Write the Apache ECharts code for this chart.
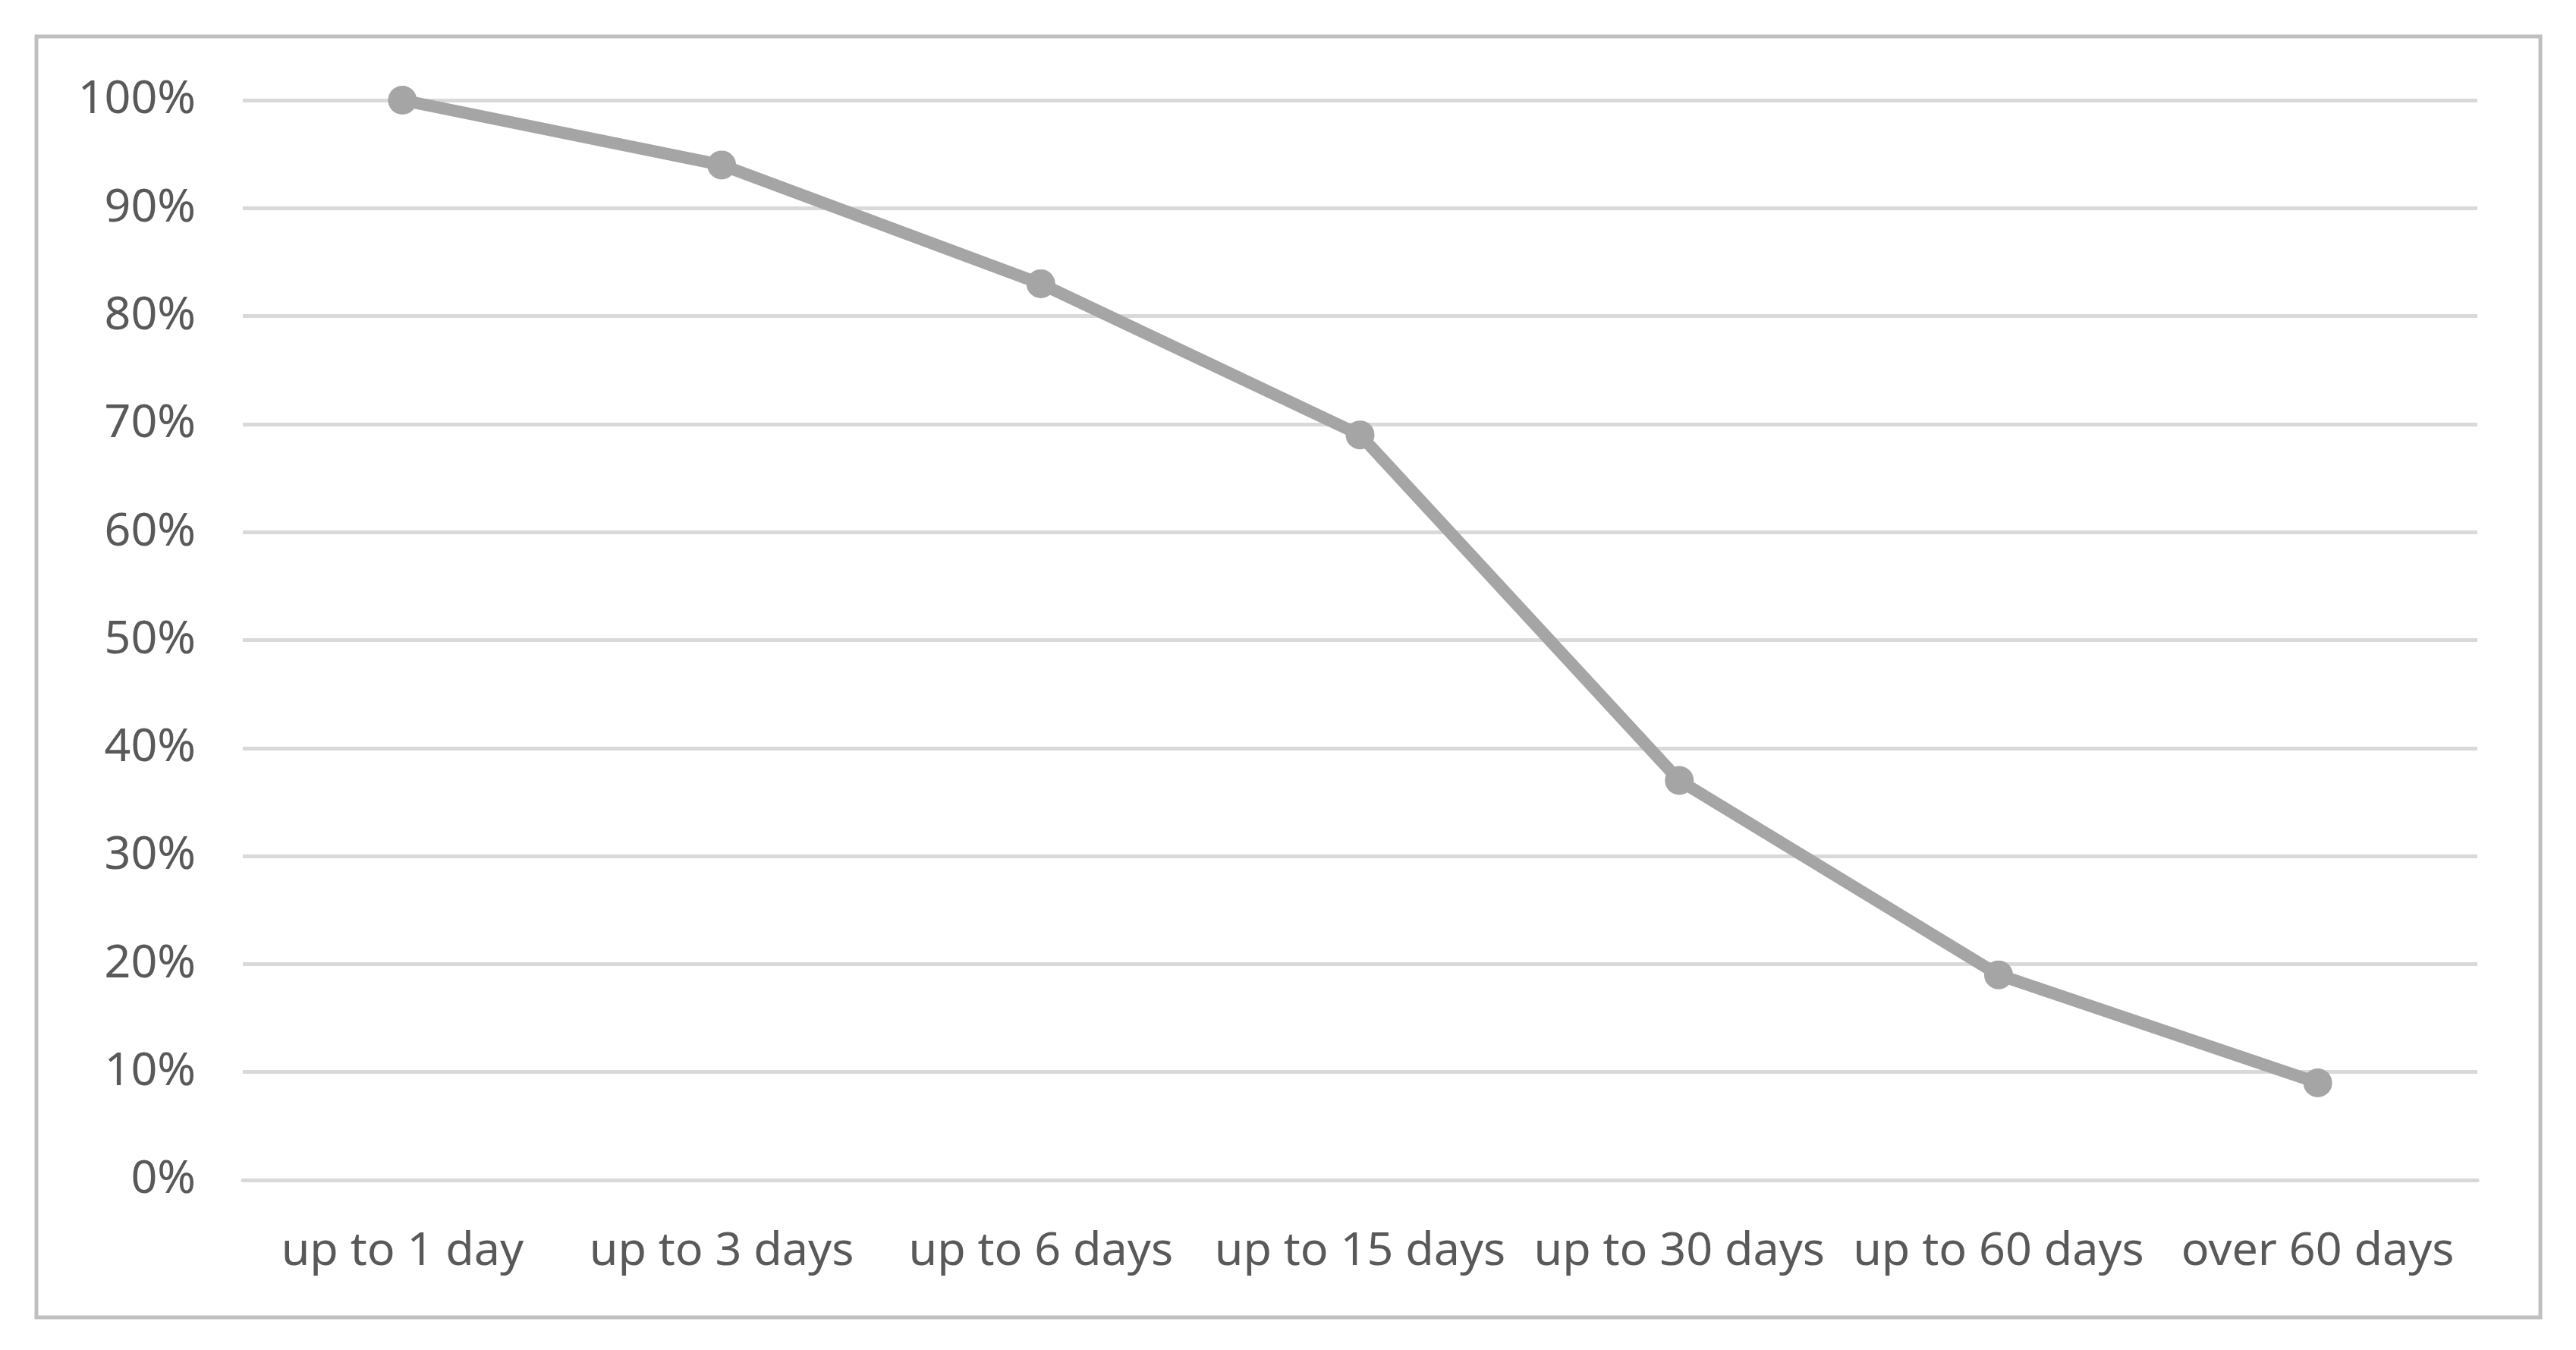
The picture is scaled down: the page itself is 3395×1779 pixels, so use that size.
<!DOCTYPE html>
<html>
<head>
<meta charset="utf-8">
<script src="https://cdn.jsdelivr.net/npm/echarts@6/dist/echarts.min.js"></script>
<style>
html, body { margin: 0; padding: 0; background: #fff; }
#chartView { width: 3395px; height: 1779px; }
</style>
</head>
<body>
<div id="chartView"></div>
<script>
var categories = ['up to 1 day', 'up to 3 days', 'up to 6 days', 'up to 15 days', 'up to 30 days', 'up to 60 days', 'over 60 days'];
var shareValues = [100, 94, 83, 69, 37, 19, 9];
var yTicks = [0, 10, 20, 30, 40, 50, 60, 70, 80, 90, 100];

var chartView = echarts.init(document.getElementById('chartView'));
var textColor = '#595959';
var ops = {
	backgroundColor: '#fff',
	animation: false,
	textStyle: { fontFamily: 'Noto Sans' },
	graphic: [{
		type: 'rect',
		shape: { x: 48, y: 48, width: 3300, height: 1688 },
		style: { fill: 'none', stroke: '#bfbfbf', lineWidth: 5 },
		silent: true
	}],
	grid: {
		left: 320,
		right: 130,
		top: 132,
		bottom: 224
	},
	xAxis: {
		type: 'category',
		boundaryGap: true,
		data: categories,
		axisLine: { lineStyle: { color: '#d9d9d9', width: 5 } },
		axisTick: { show: false },
		axisLabel: {
			color: textColor,
			fontSize: 61,
			margin: 64,
			interval: 0
		}
	},
	yAxis: {
		type: 'value',
		min: yTicks[0],
		max: yTicks[yTicks.length - 1],
		interval: 10,
		axisLine: { show: false },
		axisTick: { show: false },
		splitLine: { lineStyle: { color: '#d9d9d9', width: 5 } },
		axisLabel: {
			color: textColor,
			fontSize: 61,
			margin: 62,
			formatter: '{value}%'
		}
	},
	series: [{
		type: 'line',
		data: shareValues,
		symbol: 'circle',
		symbolSize: 38,
		itemStyle: { color: '#a5a5a5' },
		lineStyle: { color: '#a5a5a5', width: 16 }
	}]
};
chartView.setOption(ops);
</script>
</body>
</html>
